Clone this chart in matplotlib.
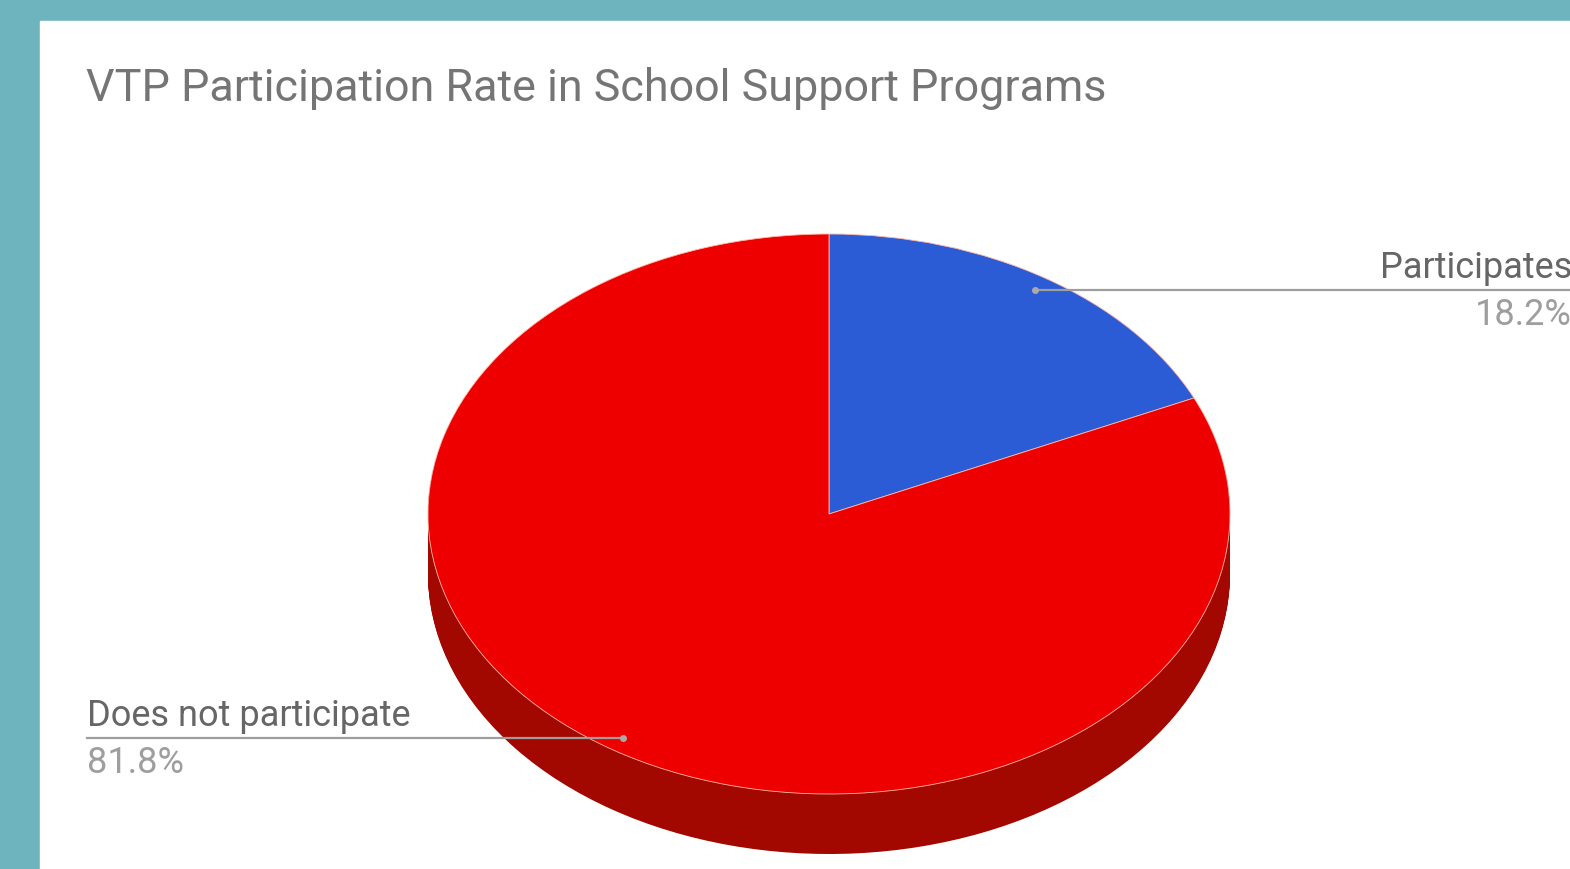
import matplotlib.pyplot as plt
import matplotlib.transforms as mtransforms
import numpy as np

plt.rcParams['font.family'] = ['Roboto', 'DejaVu Sans']

# data
title = 'VTP Participation Rate in School Support Programs'
labels = ['Participates', 'Does not participate']
values = [18.2, 81.8]
colors = ['#2b5cd6', '#ee0000']
side_colors = ['#1d3f96', '#a30800']

fig = plt.figure(figsize=(15.7, 8.7), dpi=100)
fig.patch.set_facecolor('#6db4bf')
ax = fig.add_axes([0, 0, 1, 1])

# white card
ax.add_patch(plt.Rectangle((40, 0), 1530, 848, color='white', zorder=0))

# pie geometry (pixels, origin bottom-left)
cx, cy = 829, 355
R = 401
k = 280 / 401
depth = 60

def squash(dy):
    return mtransforms.Affine2D().scale(1, k).translate(0, cy - dy) + ax.transData

# side of the 3d pie: stacked darker layers
for d in np.arange(depth, 0, -1):
    ws, _ = ax.pie(values, colors=side_colors, startangle=90, counterclock=False,
                   radius=R, center=(cx, 0), wedgeprops=dict(linewidth=0))
    for w in ws:
        w.set_transform(squash(d))
        w.set_zorder(1)

# top face
wedges, _ = ax.pie(values, colors=colors, startangle=90, counterclock=False,
                   radius=R, center=(cx, 0),
                   wedgeprops=dict(linewidth=0.6, edgecolor='#ffb8a8'))
for w in wedges:
    w.set_transform(squash(0))
    w.set_zorder(2)

# leader lines + labels
for w, lab, v in zip(wedges, labels, values):
    mid = np.deg2rad((w.theta1 + w.theta2) / 2)
    px = cx + 0.95 * R * np.cos(mid)
    py = cy + 0.95 * R * k * np.sin(mid)
    if np.cos(mid) > 0:
        x_end, ha = 1570, 'right'
        tx = 1572
    else:
        x_end, ha = 87, 'left'
        tx = 87
    ax.plot([px, x_end], [py, py], color='#9e9e9e', lw=1.6, zorder=3)
    ax.plot(px, py, 'o', ms=4, color='#b0a8a8', zorder=4)
    ax.text(tx, py + 5, lab, ha=ha, va='bottom', fontsize=26, color='#666666', zorder=5)
    ax.text(tx, py - 6, f'{v}%', ha=ha, va='top', fontsize=26, color='#9e9e9e', zorder=5)

ax.text(86, 870 - 88, title, ha='left', va='center', fontsize=32.3, color='#757575')

ax.set_xlim(0, 1570)
ax.set_ylim(0, 870)
ax.set_aspect('auto')
ax.axis('off')

fig.savefig('out.png', dpi=100, facecolor=fig.get_facecolor())
